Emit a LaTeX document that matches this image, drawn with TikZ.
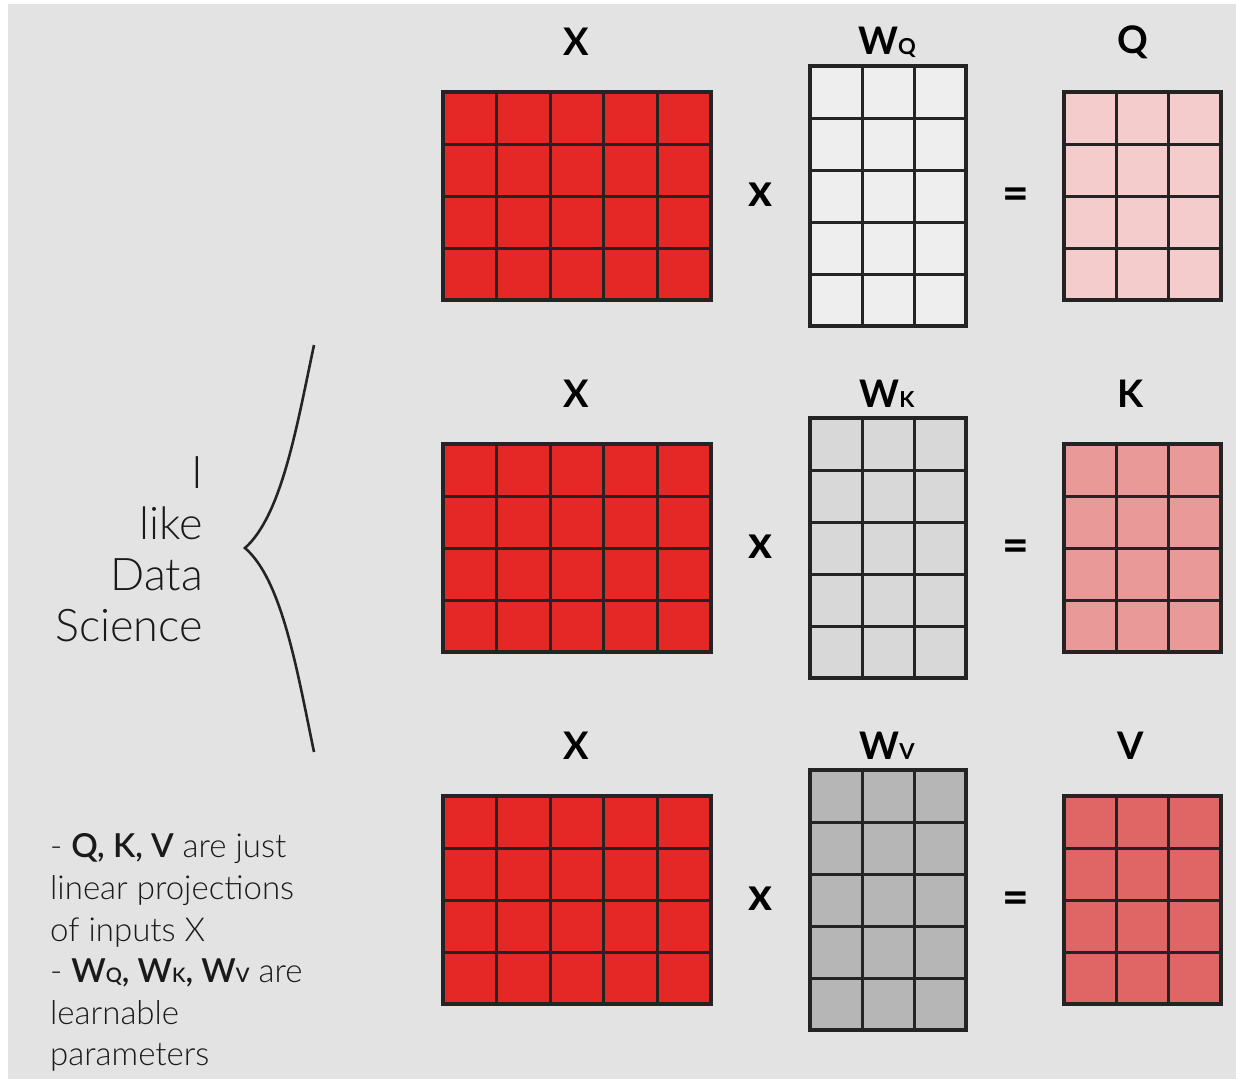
\documentclass[tikz,border=0pt]{standalone}
\usepackage{fontspec}
\setmainfont{Lato}
\newfontfamily\lightfont{Lato Light}
\definecolor{bg}{HTML}{E3E3E3}
\definecolor{gridc}{HTML}{242424}
\definecolor{redX}{HTML}{E52825}
\definecolor{wq}{HTML}{EEEEEE}
\definecolor{wk}{HTML}{D8D8D8}
\definecolor{wv}{HTML}{B6B6B6}
\definecolor{qc}{HTML}{F4CCCC}
\definecolor{kc}{HTML}{EA9999}
\definecolor{vc}{HTML}{E06666}
\definecolor{txt}{HTML}{1A1A1A}
\tikzset{
  matbox/.style={draw=gridc, line width=3.5pt, inner sep=0pt, outer sep=0pt},
  gridline/.style={draw=gridc, line width=3pt},
  lbl/.style={font=\bfseries\fontsize{38}{38}\selectfont, text=black, inner sep=0pt},
  op/.style={font=\bfseries\fontsize{46}{46}\selectfont, text=black, inner sep=0pt},
  word/.style={font=\lightfont\fontsize{45}{45}\selectfont, text=txt, inner sep=0pt, anchor=base east},
  note/.style={font=\lightfont\fontsize{33}{33}\selectfont, text=txt, inner sep=0pt, anchor=base west},
}
% \mymat{name}{x0}{y0}{cols}{rows}{cellw}{cellh}{color}
\newcommand{\mymat}[8]{%
  \node[matbox, fill=#8, minimum width=#4*#6pt, minimum height=#5*#7pt, anchor=north west] (#1) at (#2,#3) {};
  \foreach \i in {1,...,\numexpr#4-1\relax}{\draw[gridline] ([xshift=\i*#6pt]#1.north west) -- ([xshift=\i*#6pt]#1.south west);}
  \foreach \j in {1,...,\numexpr#5-1\relax}{\draw[gridline] ([yshift=-\j*#7pt]#1.north west) -- ([yshift=-\j*#7pt]#1.north east);}
}
\newcommand{\Wsub}[1]{W{\fontsize{22}{22}\selectfont #1}}
\newcommand{\Wsm}[1]{W{\fontsize{20}{20}\selectfont #1}}
\begin{document}
\begin{tikzpicture}[x=1pt,y=-1pt]
\useasboundingbox (0,0) rectangle (1236,1079);
\fill[white] (0,0) rectangle (1236,1079);
\fill[bg] (8,4) rectangle (1236,1079);

% row 1
\mymat{xq}{443}{92}{5}{4}{53.6}{52}{redX}
\mymat{wqm}{810}{66}{3}{5}{52}{52}{wq}
\mymat{qm}{1064}{92}{3}{4}{52.3}{52}{qc}
\node[lbl] (lx1) at (576,42) {X};
\node[lbl] (lw1) at (887,42) {\Wsub{Q}};
\node[lbl] (lq) at (1133,42) {Q};
\node[op] (t1) at (760,195) {x};
\node[op] (e1) at (1016,199) {=};

% row 2
\mymat{xk}{443}{444}{5}{4}{53.6}{52}{redX}
\mymat{wkm}{810}{418}{3}{5}{52}{52}{wk}
\mymat{km}{1064}{444}{3}{4}{52.3}{52}{kc}
\node[lbl] (lx2) at (576,394) {X};
\node[lbl] (lw2) at (887,394) {\Wsub{K}};
\node[lbl] (lk) at (1131,394) {K};
\node[op] (t2) at (760,547) {x};
\node[op] (e2) at (1016,551) {=};

% row 3
\mymat{xv}{443}{796}{5}{4}{53.6}{52}{redX}
\mymat{wvm}{810}{770}{3}{5}{52}{52}{wv}
\mymat{vm}{1064}{796}{3}{4}{52.3}{52}{vc}
\node[lbl] (lx3) at (576,746) {X};
\node[lbl] (lw3) at (887,746) {\Wsub{V}};
\node[lbl] (lv) at (1131,746) {V};
\node[op] (t3) at (760,899) {x};
\node[op] (e3) at (1016,903) {=};

% words
\node[word] (w1) at (203,488) {I};
\node[word] (w2) at (203,539) {like};
\node[word] (w3) at (203,590) {Data};
\node[word] (w4) at (203,641) {Science};

% brace
\coordinate (btop) at (314,345);
\coordinate (btip) at (245,548);
\coordinate (bbot) at (314,752);
\draw[gridc, line width=2.6pt, line join=miter] (btop) .. controls (297,425) and (282,515) .. (btip) .. controls (282,580) and (297,670) .. (bbot);

% notes
\node[note] (n1) at (50,857) {- \textbf{Q, K, V} are just};
\node[note] (n2) at (50,899) {linear projections};
\node[note] (n3) at (50,941) {of inputs X};
\node[note] (n4) at (50,982) {- \textbf{\Wsm{Q}, \Wsm{K}, \Wsm{V}} are};
\node[note] (n5) at (50,1024) {learnable};
\node[note] (n6) at (50,1065) {parameters};
\end{tikzpicture}
\end{document}
